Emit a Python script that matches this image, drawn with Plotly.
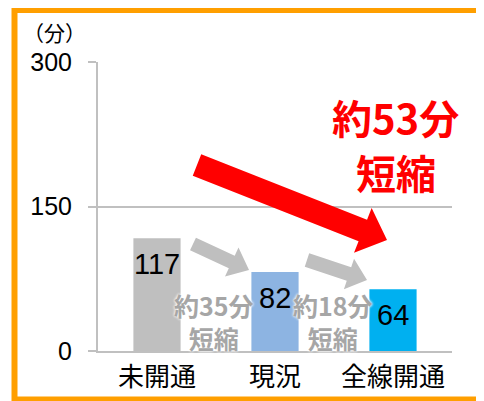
import plotly.graph_objects as go
import math

# ---- data ----
categories = ["未開通", "現況", "全線開通"]
minutes = [117, 82, 64]
bar_colors = ["#BFBFBF", "#8DB4E2", "#00B0F0"]
y_ticks = [0, 150, 300]
y_title = "（分）"
reduction_total_lines = ["約53分", "短縮"]
reduction_steps = ["約35分<br>短縮", "約18分<br>短縮"]

# ---- layout geometry (screen pixels; page body has an 8px margin) ----
OFF = 8
W, H = 484, 401
L, R, T, B = 98 - OFF, 452 - OFF, 62 - OFF, 351 - OFF
PW, PH = R - L, B - T


def px2paper(px, py):
    """screen pixel -> paper coordinates"""
    return (px - OFF - L) / PW, (B - (py - OFF)) / PH


def arrow_path(tail, tip, half_w, head_half, head_len):
    tx, ty = tail
    hx, hy = tip
    dx, dy = hx - tx, hy - ty
    d = math.hypot(dx, dy)
    ux, uy = dx / d, dy / d
    nx, ny = uy, -ux
    bx, by = hx - head_len * ux, hy - head_len * uy
    pts = [
        (tx + half_w * nx, ty + half_w * ny),
        (bx + half_w * nx, by + half_w * ny),
        (bx + head_half * nx, by + head_half * ny),
        (hx, hy),
        (bx - head_half * nx, by - head_half * ny),
        (bx - half_w * nx, by - half_w * ny),
        (tx - half_w * nx, ty - half_w * ny),
    ]
    ppts = [px2paper(*p) for p in pts]
    return "M " + " L ".join(f"{x:.4f},{y:.4f}" for x, y in ppts) + " Z"


FONT = "Liberation Sans, Arial, Noto Sans CJK JP, sans-serif"
CJK = "Noto Sans CJK JP, sans-serif"

x_idx = list(range(len(categories)))

fig = go.Figure()
fig.add_trace(go.Bar(
    x=x_idx, y=minutes, width=0.4,
    marker=dict(color=bar_colors, line=dict(width=0)),
    hoverinfo="skip", showlegend=False,
))

annotations = []
for i, v in zip(x_idx, minutes):
    annotations.append(dict(
        x=i, y=v, xref="x", yref="y", text=str(v), showarrow=False,
        yanchor="top", yshift=-8,
        font=dict(family=FONT, size=29, color="#000000"),
    ))

xp, yp = px2paper(54.5, 32)
annotations.append(dict(
    x=xp, y=yp, xref="paper", yref="paper",
    text=y_title, showarrow=False, xanchor="center", yanchor="middle",
    borderpad=0,
    font=dict(family=CJK, size=21, color="#000000"),
))

for cy, line in zip([117, 172], reduction_total_lines):
    xp, yp = px2paper(395.5, cy)
    annotations.append(dict(
        x=xp, y=yp, xref="paper", yref="paper",
        text=line, showarrow=False, xanchor="center", yanchor="middle",
        borderpad=0,
        font=dict(family=CJK, size=40, color="#FF0000", weight="bold"),
    ))

for cx, text in zip([214, 333], reduction_steps):
    xp, yp = px2paper(cx, 321)
    annotations.append(dict(
        x=xp, y=yp, xref="paper", yref="paper", text=text, showarrow=False,
        xanchor="center", yanchor="middle",
        font=dict(family=CJK, size=25, color="#A6A6A6", weight="bold",
                  shadow="0 0 3px #ffffff, 0 0 3px #ffffff"),
    ))

shapes = []
x0, y0 = px2paper(14.5, 399.5)
x1, y1 = px2paper(495, 10)
shapes.append(dict(type="rect", xref="paper", yref="paper", x0=x0, y0=y0, x1=x1, y1=y1,
                   line=dict(color="#FF9F00", width=6), fillcolor="rgba(0,0,0,0)", layer="above"))
shapes.append(dict(type="path", xref="paper", yref="paper",
                   path=arrow_path((197, 165), (387, 240), 11.5, 24, 26),
                   fillcolor="#FF0000", line=dict(width=0), layer="above"))
shapes.append(dict(type="path", xref="paper", yref="paper",
                   path=arrow_path((193, 244), (249, 270), 7, 16, 19),
                   fillcolor="#BFBFBF", line=dict(width=0), layer="above"))
shapes.append(dict(type="path", xref="paper", yref="paper",
                   path=arrow_path((307, 260), (367, 280), 7, 16, 19),
                   fillcolor="#BFBFBF", line=dict(width=0), layer="above"))

fig.update_layout(
    width=W, height=H,
    margin=dict(l=L, r=W - R, t=T, b=H - B, pad=0),
    paper_bgcolor="#FFFFFF", plot_bgcolor="#FFFFFF",
    annotations=annotations, shapes=shapes,
)
fig.update_xaxes(
    range=[-0.5, 2.5], tickvals=x_idx, ticktext=categories,
    showgrid=False, zeroline=False, showline=True, linecolor="#C0C0C0", linewidth=2,
    ticks="", tickfont=dict(family=CJK, size=26, color="#000000"),
    ticklabelstandoff=2, fixedrange=True,
)
fig.update_yaxes(
    range=[0, 300], tickvals=y_ticks, ticktext=[str(v) for v in y_ticks],
    showgrid=True, gridcolor="#C0C0C0", gridwidth=2,
    zeroline=False, showline=True, linecolor="#C0C0C0", linewidth=2,
    ticks="outside", ticklen=8, tickcolor="#C0C0C0", tickwidth=2,
    tickfont=dict(family=FONT, size=25, color="#000000"),
    ticklabelstandoff=11, fixedrange=True,
)

fig.write_html("out.html", config={"displayModeBar": False})
